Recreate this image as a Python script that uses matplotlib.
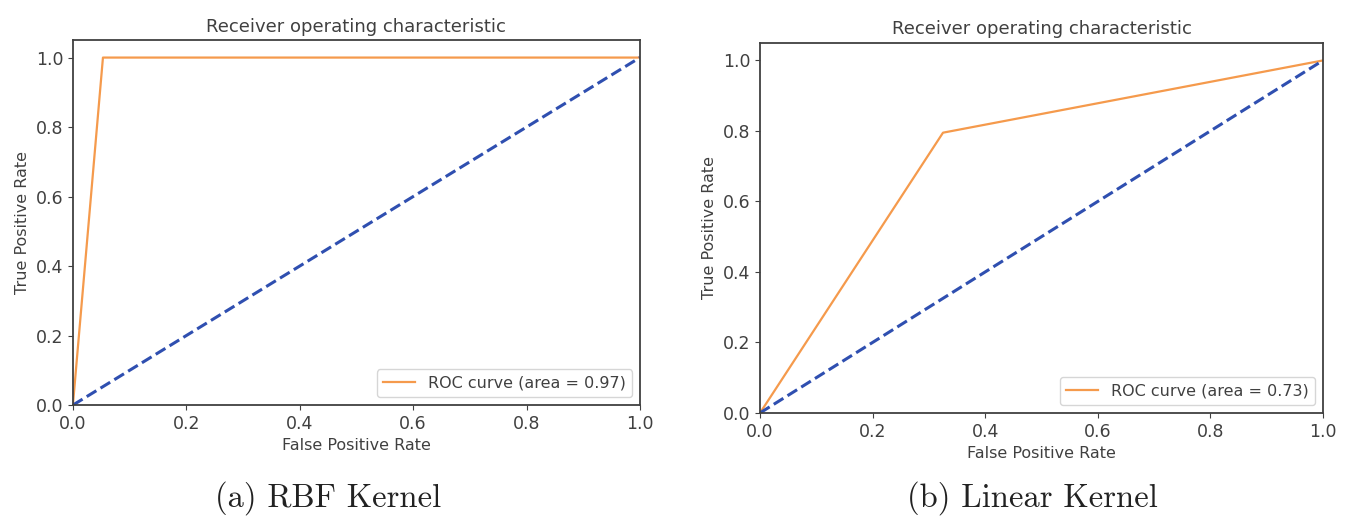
import matplotlib
matplotlib.use("Agg")
import matplotlib.pyplot as plt

# ROC points
fpr_rbf = [0.0, 0.053, 1.0]
tpr_rbf = [0.0, 1.0, 1.0]
auc_rbf = 0.97

fpr_lin = [0.0, 0.325, 1.0]
tpr_lin = [0.0, 0.795, 1.0]
auc_lin = 0.73

chance = [0.0, 1.0]
captions = ["(a) RBF Kernel", "(b) Linear Kernel"]

txt = "#404040"
plt.rcParams['text.color'] = txt
plt.rcParams['axes.labelcolor'] = txt
plt.rcParams['xtick.color'] = txt
plt.rcParams['ytick.color'] = txt
plt.rcParams['axes.edgecolor'] = "#404040"

fig = plt.figure(figsize=(13.5, 5.22), dpi=100)
ax1 = fig.add_axes([0.054, 0.224, 0.420, 0.699])
ax2 = fig.add_axes([0.563, 0.209, 0.417, 0.709])

for ax, fpr, tpr, auc, cap in [(ax1, fpr_rbf, tpr_rbf, auc_rbf, captions[0]),
                               (ax2, fpr_lin, tpr_lin, auc_lin, captions[1])]:
    ax.plot(fpr, tpr, color='#f59a4c', lw=1.6, label='ROC curve (area = %0.2f)' % auc)
    ax.plot(chance, chance, color='#2f4fb0', lw=2.2, linestyle='--')
    ax.set_xlim(0.0, 1.0)
    ax.set_ylim(0.0, 1.05)
    ax.set_xlabel('False Positive Rate', fontsize=11.5)
    ax.set_ylabel('True Positive Rate', fontsize=11.5)
    ax.set_title('Receiver operating characteristic', fontsize=13)
    ax.tick_params(labelsize=12.5)
    ax.legend(loc='lower right', fontsize=11.5)
    for s in ax.spines.values():
        s.set_linewidth(1.3)

fig.text(0.243, 0.045, captions[0], ha='center', va='center', family='cmr10', fontsize=23.5, color='#222222')
fig.text(0.765, 0.045, captions[1], ha='center', va='center', family='cmr10', fontsize=23.5, color='#222222')

plt.savefig('out.png', dpi=100)
